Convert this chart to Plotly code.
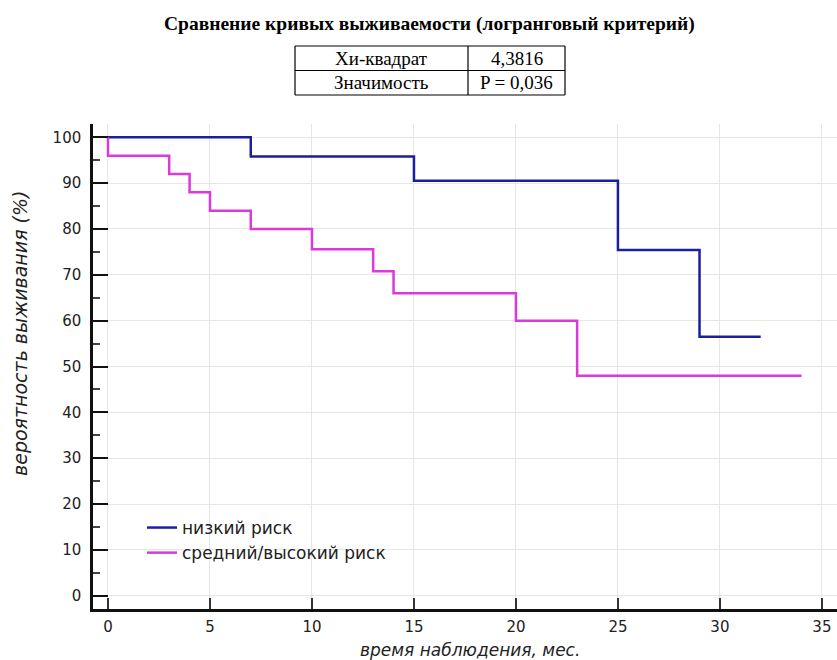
import plotly.graph_objects as go

# Data (Kaplan-Meier step curves)
low_time = [0, 7, 15, 25, 29, 32]
low_surv = [100, 95.8, 90.5, 75.4, 56.5, 56.5]
high_time = [0, 0, 3, 4, 5, 7, 10, 13, 14, 20, 23, 34]
high_surv = [100, 96, 92, 88, 84, 80, 75.6, 70.8, 66, 60, 48, 48]
series_names = ["низкий риск", "средний/высокий риск"]
table_rows = [["Хи-квадрат", "4,3816"], ["Значимость", "P = 0,036"]]
title_text = "Сравнение кривых выживаемости (логранговый критерий)"
x_title = "время наблюдения, мес."
y_title = "вероятность выживания (%)"

W, H = 837, 660
L, R, T, B = 93, 0, 124, 51
PW = W - L - R
PH = H - T - B


def px2x(p):
    return (p - L) / PW


def px2y(p):
    return (H - B - p) / PH


fig = go.Figure()
fig.add_trace(go.Scatter(x=low_time, y=low_surv, mode="lines", line_shape="hv",
                         line=dict(color="#1d1da0", width=2.5), name=series_names[0]))
fig.add_trace(go.Scatter(x=high_time, y=high_surv, mode="lines", line_shape="hv",
                         line=dict(color="#d93ad9", width=2.5), name=series_names[1]))

axis_font = dict(family="DejaVu Sans", size=15, color="#222222")

fig.update_layout(
    width=W, height=H,
    margin=dict(l=L, r=R, t=T, b=B, pad=0),
    paper_bgcolor="white", plot_bgcolor="white",
    showlegend=True,
    legend=dict(x=px2x(142), y=px2y(510), xanchor="left", yanchor="top",
                bgcolor="rgba(0,0,0,0)", font=dict(family="DejaVu Sans", size=17, color="#222222"),
                tracegroupgap=0),
    xaxis=dict(range=[-0.735, 35.74], tickmode="array", tickvals=[0, 5, 10, 15, 20, 25, 30, 35],
               showgrid=True, gridcolor="#e6e6e6", gridwidth=1, zeroline=False,
               showline=True, linecolor="#111111", linewidth=2.5,
               ticks="inside", ticklen=11, tickwidth=1.5, tickcolor="#333333",
               ticklabelstandoff=2, tickfont=axis_font),
    yaxis=dict(range=[-2.9, 102.9], tickmode="array", tickvals=list(range(0, 101, 10)),
               showgrid=True, gridcolor="#e6e6e6", gridwidth=1, zeroline=False,
               showline=True, linecolor="#111111", linewidth=2.5,
               ticks="inside", ticklen=15, tickwidth=2, tickcolor="#111111",
               ticklabelstandoff=6, tickfont=axis_font,
               minor=dict(tickvals=list(range(5, 100, 10)), ticks="inside", ticklen=7,
                          tickwidth=1.5, tickcolor="#444444", showgrid=False)),
)


def note(text, xp, yp, size, family, angle=0, color="black"):
    fig.add_annotation(text=text, xref="paper", yref="paper", x=px2x(xp), y=px2y(yp),
                       xanchor="center", yanchor="middle", showarrow=False, textangle=angle,
                       font=dict(family=family, size=size, color=color))


# Title
note("<b>" + title_text + "</b>", 429, 24, 19.5, "Liberation Serif")

# Table
tx0, tx1, tx2 = 295, 468, 565
ty0, ty1, ty2 = 46, 70.5, 95
for (a, b, c, d) in [(tx0, ty0, tx2, ty0), (tx0, ty1, tx2, ty1), (tx0, ty2, tx2, ty2),
                     (tx0, ty0, tx0, ty2), (tx1, ty0, tx1, ty2), (tx2, ty0, tx2, ty2)]:
    fig.add_shape(type="line", xref="paper", yref="paper",
                  x0=px2x(a), y0=px2y(b), x1=px2x(c), y1=px2y(d),
                  line=dict(color="black", width=1.2))
row_centers = [(ty0 + ty1) / 2, (ty1 + ty2) / 2]
for row, yc in zip(table_rows, row_centers):
    note(row[0], (tx0 + tx1) / 2, yc, 19, "Liberation Serif")
    note(row[1], (tx1 + tx2) / 2, yc, 19, "Liberation Serif")

# Axis titles
note("<i>" + x_title + "</i>", 470, 650, 17, "DejaVu Sans", color="#222222")
note("<i>" + y_title + "</i>", 20, 333, 19, "DejaVu Sans", angle=-90, color="#222222")

fig.write_html("out.html", post_script="document.body.style.margin='0';",
               config={"displayModeBar": False})
